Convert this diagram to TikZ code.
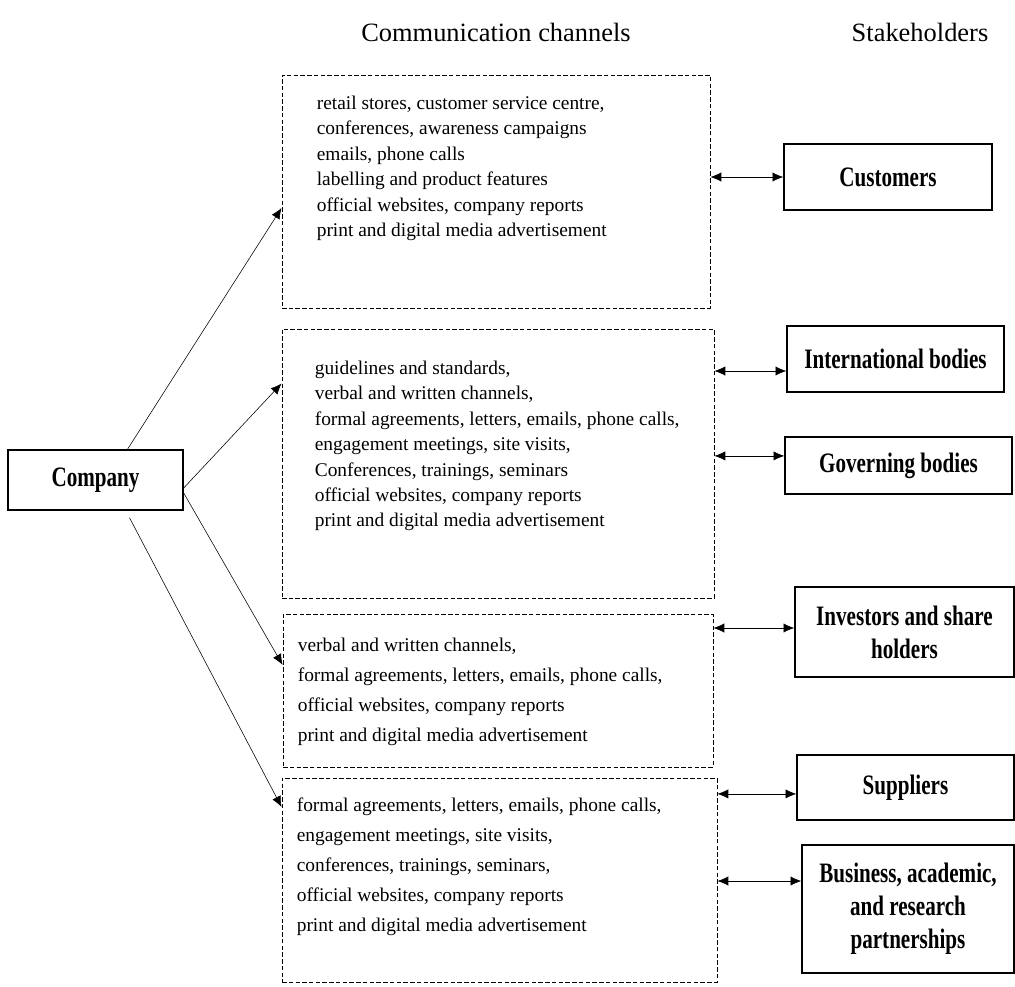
\documentclass[tikz,border=0pt]{standalone}
\usepackage{fontspec}
\setmainfont{Liberation Serif}
\newfontfamily\labelfont[FakeStretch=0.75]{Liberation Serif}
\usepackage{tikz}
\usetikzlibrary{arrows.meta,positioning}

\tikzset{
	>={Latex[length=2.7mm,width=2.3mm]},
	channel/.style={draw, dash pattern=on 3.2pt off 1.6pt, line width=0.65pt, inner sep=0pt},
	chantext/.style={align=left, inner sep=0pt, font=\fontsize{13.8}{18.1}\selectfont},
	widetext/.style={align=left, inner sep=0pt, font=\fontsize{13.8}{21.3}\selectfont},
	holder/.style={draw, line width=1pt, align=center, font=\labelfont\bfseries\fontsize{20}{23.5}\selectfont},
	heading/.style={font=\fontsize{18.8}{22}\selectfont}
}

\begin{document}
\begin{tikzpicture}
			\useasboundingbox (0, 0) rectangle (25.375, -24.65);
			% headings
			\node[heading] (chanhead) at (12.4, -0.8) {Communication channels};
			\node[heading] (holdhead) at (23.0, -0.8) {Stakeholders};
			% company
			\node[holder, minimum width=4.375cm, minimum height=1.5cm] (company) at (2.3875, -12) {Company};
			% channel boxes
			\node[channel, minimum width=10.7cm, minimum height=5.825cm] (chan1) at (12.4, -4.7875) {};
			\node[channel, minimum width=10.8cm, minimum height=6.725cm] (chan2) at (12.45, -11.5875) {};
			\node[channel, minimum width=10.75cm, minimum height=3.825cm] (chan3) at (12.45, -17.2625) {};
			\node[channel, minimum width=10.875cm, minimum height=5.1cm] (chan4) at (12.4875, -22) {};
			\node[chantext, below right=0.525cm and 0.875cm of chan1.north west] (text1) {retail stores, customer service centre,\\
				conferences, awareness campaigns\\
				emails, phone calls\\
				labelling and product features\\
				official websites, company reports\\
				print and digital media advertisement};
			\node[chantext, below right=0.8cm and 0.825cm of chan2.north west] (text2) {guidelines and standards,\\
				verbal and written channels,\\
				formal agreements, letters, emails, phone calls,\\
				engagement meetings, site visits,\\
				Conferences, trainings, seminars\\
				official websites, company reports\\
				print and digital media advertisement};
			\node[widetext, below right=0.6cm and 0.375cm of chan3.north west] (text3) {verbal and written channels,\\
				formal agreements, letters, emails, phone calls,\\
				official websites, company reports\\
				print and digital media advertisement};
			\node[widetext, below right=0.5cm and 0.375cm of chan4.north west] (text4) {formal agreements, letters, emails, phone calls,\\
				engagement meetings, site visits,\\
				conferences, trainings, seminars,\\
				official websites, company reports\\
				print and digital media advertisement};
			% stakeholders
			\node[holder, minimum width=5.2cm, minimum height=1.65cm] (cust) at (22.2, -4.425) {Customers};
			\node[holder, minimum width=5.425cm, minimum height=1.65cm] (intl) at (22.3875, -8.975) {International bodies};
			\node[holder, minimum width=5.675cm, minimum height=1.425cm] (gov) at (22.4625, -11.6375) {Governing bodies};
			\node[holder, minimum width=5.475cm, minimum height=2.25cm] (inv) at (22.6125, -15.8) {Investors and share\\holders};
			\node[holder, minimum width=5.425cm, minimum height=1.625cm] (supp) at (22.6375, -19.6875) {Suppliers};
			\node[holder, minimum width=5.3cm, minimum height=3.2cm] (bus) at (22.7, -22.725) {Business, academic,\\and research\\partnerships};
			% company to channels
			\draw[->] ([xshift=0.8cm]company.north) -- ([yshift=-0.4125cm]chan1.west);
			\draw[->] ([yshift=-0.2cm]company.east) -- ([yshift=2cm]chan2.west);
			\draw[->] ([yshift=-0.325cm]company.east) -- ([yshift=0.64cm]chan3.west);
			\draw[->] ([xshift=0.85cm, yshift=-0.175cm]company.south) -- ([yshift=1.825cm]chan4.west);
			% channels to stakeholders
			\coordinate (custend) at (cust.west);
			\coordinate (intlend) at ([yshift=-0.3cm]intl.west);
			\coordinate (govend) at ([yshift=0.24cm]gov.west);
			\coordinate (invend) at ([yshift=0.1cm]inv.west);
			\coordinate (suppend) at ([yshift=-0.16cm]supp.west);
			\coordinate (busend) at ([yshift=0.7cm]bus.west);
			\draw[<->] (custend -| chan1.east) -- (custend);
			\draw[<->] (intlend -| chan2.east) -- (intlend);
			\draw[<->] (govend -| chan2.east) -- (govend);
			\draw[<->] (invend -| chan3.east) -- (invend);
			\draw[<->] (suppend -| chan4.east) -- (suppend);
			\draw[<->] (busend -| chan4.east) -- (busend);
		\end{tikzpicture}
\end{document}
